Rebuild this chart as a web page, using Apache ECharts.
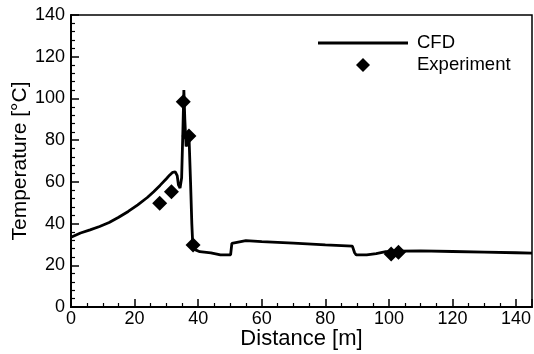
<!DOCTYPE html>
<html><head><meta charset="utf-8">
<script src="https://cdn.jsdelivr.net/npm/echarts@6/dist/echarts.min.js"></script>
<style>html,body{margin:0;padding:0;background:#fff}#c{width:534px;height:354px}</style>
</head><body><div id="c"></div>
<script>
const cfdX = [0, 3, 6, 9, 12, 15, 18, 21, 24, 26, 28, 30, 31, 32, 32.8, 33.4, 33.8, 34.3, 34.8, 35.2, 35.5, 35.8, 36.2, 36.6, 37.1, 37.6, 38.0, 38.3, 39, 40.5, 44, 47, 50.2, 50.6, 51.2, 55, 60, 70, 80, 88.5, 89.2, 89.7, 93, 96, 99, 103, 110, 120, 130, 140, 145];
const cfdY = [33.4, 35.5, 37.0, 38.6, 40.5, 43.0, 45.8, 49.0, 52.5, 55.3, 58.3, 61.5, 63.2, 64.6, 64.8, 63.0, 58.5, 57.0, 62.0, 85.0, 104.0, 90.0, 77.0, 78.5, 82.5, 60.0, 40.0, 29.7, 27.5, 26.5, 26.0, 25.0, 25.0, 30.5, 31.4, 31.8, 31.3, 30.6, 29.8, 29.2, 26.0, 25.0, 25.0, 25.6, 26.5, 26.8, 26.9, 26.6, 26.3, 26.0, 25.8];
const expX = [27.9, 31.6, 35.3, 37.1, 38.4, 100.7, 103.0];
const expY = [49.7, 55.3, 98.4, 82.0, 29.7, 25.4, 26.3];
const xTicks = [0, 20, 40, 60, 80, 100, 120, 140];
const yTicks = [0, 20, 40, 60, 80, 100, 120, 140];

const cfd = cfdX.map((x, i) => [x, cfdY[i]]);
const exp = expX.map((x, i) => [x, expY[i]]);
const font = 'Liberation Sans, Arial, sans-serif';
const chart = echarts.init(document.getElementById('c'), null, {renderer: 'canvas'});
chart.setOption({
  animation: false,
  backgroundColor: '#fff',
  grid: {left: 71, right: 2, top: 15, bottom: 47, outerBoundsMode: 'none', containLabel: false,
    show: true, borderColor: '#000', borderWidth: 1.5, backgroundColor: 'transparent'},
  legend: {
    orient: 'vertical', left: 313, top: 27, itemWidth: 90, itemHeight: 14, itemGap: 0,
    symbolKeepAspect: true,
    textStyle: {fontFamily: font, fontSize: 18.5, color: '#000', padding: [0, 0, 0, 4], lineHeight: 22},
    data: [
      {name: 'CFD', icon: 'path://M0,0L90,0L90,3L0,3Z'},
      {name: 'Experiment', icon: 'path://M0,-1L1,0L0,1L-1,0Z'}
    ]
  },
  xAxis: {
    type: 'value', min: 0, max: 145, interval: 20,
    name: 'Distance [m]', nameLocation: 'middle', nameGap: 21, nameMoveOverlap: false,
    nameTextStyle: {fontFamily: font, fontSize: 22, color: '#000'},
    axisLine: {onZero: false, lineStyle: {color: '#000', width: 2}},
    axisTick: {inside: true, length: 8, lineStyle: {color: '#000', width: 1.5}},
    minorTick: {show: true, splitNumber: 4, length: 4, lineStyle: {color: '#000', width: 1.2}},
    splitLine: {show: false},
    axisLabel: {fontFamily: font, fontSize: 18, color: '#000', margin: 3, showMaxLabel: false,
      formatter: v => xTicks.includes(v) ? String(v) : ''}
  },
  yAxis: {
    type: 'value', min: 0, max: 140, interval: 20,
    name: 'Temperature [°C]', nameLocation: 'middle', nameGap: 40, nameMoveOverlap: false,
    nameTextStyle: {fontFamily: font, fontSize: 21, color: '#000'},
    axisLine: {onZero: false, lineStyle: {color: '#000', width: 2}},
    axisTick: {inside: true, length: 8, lineStyle: {color: '#000', width: 1.5}},
    minorTick: {show: true, splitNumber: 5, length: 4, lineStyle: {color: '#000', width: 1.2}},
    splitLine: {show: false},
    axisLabel: {fontFamily: font, fontSize: 18, color: '#000', margin: 6,
      formatter: v => yTicks.includes(v) ? String(v) : ''}
  },
  series: [
    {name: 'CFD', type: 'line', data: cfd, showSymbol: false, symbol: 'none',
      lineStyle: {color: '#000', width: 2.8}, itemStyle: {color: '#000'}, z: 2},
    {name: 'Experiment', type: 'scatter', data: exp, symbol: 'diamond', symbolSize: 15,
      itemStyle: {color: '#000', opacity: 1}, z: 3}
  ]
});
</script></body></html>
